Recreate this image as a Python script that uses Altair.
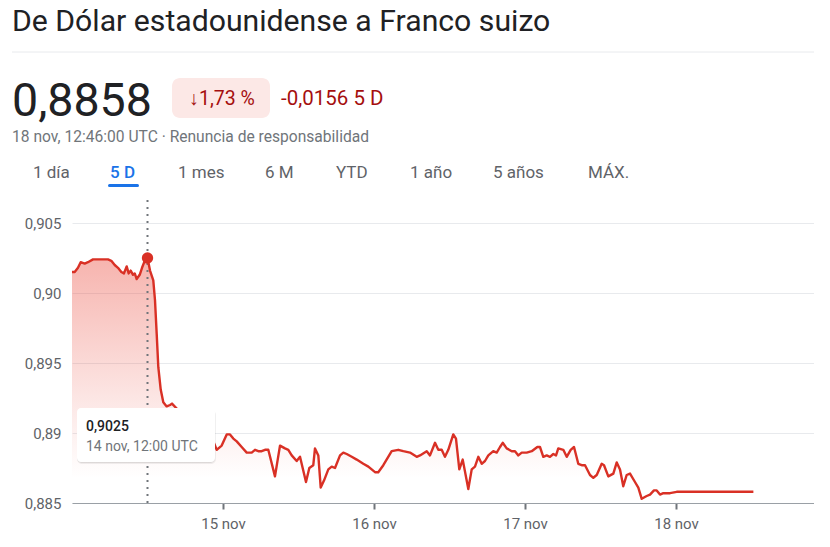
import altair as alt
import pandas as pd

# ---- data (hours since 14 nov 00:00 UTC, USD/CHF rate) ----
HOURS = [0, 0.43, 0.95, 1.38, 2.02, 2.54, 3.34, 4.13, 4.93, 5.72, 6.25, 6.79, 7.31, 7.84, 8.26,
         8.69, 9.01, 9.33, 9.70, 9.97, 10.28, 10.76, 11.13, 11.65, 12.0, 12.4, 12.92, 13.19, 13.46,
         13.72, 14.10, 14.51, 15.05, 15.58, 15.89, 17.17, 18.75, 20.34, 21.62,
         22.46, 23.0, 23.79, 24.59, 25.11, 25.64, 26.18, 26.97, 27.77, 28.56, 29.09, 29.61, 30.15,
         30.68, 31.2, 32.26, 33.06, 33.85, 34.38, 34.92, 35.71, 36.24, 37.19, 37.72, 38.35, 38.62,
         39.15, 39.53, 40.05, 40.74, 41.28, 41.8, 42.6, 43.12, 43.66, 44.46, 45.25, 46.3, 47.1,
         48.16, 48.68, 49.48, 50.81, 51.86, 52.66, 53.72, 54.79, 55.31, 56.38, 56.9, 57.7, 58.22,
         58.76, 59.28, 59.81, 60.6, 61.03, 61.56, 62.1, 62.99, 63.53, 64.05, 64.58, 65.12, 65.64,
         66.17, 66.96, 67.5, 68.03, 68.46, 69.09, 69.89, 70.41, 70.94, 71.48, 72.27, 73.07, 73.96,
         74.38, 74.91, 75.45, 75.97, 76.5, 76.93, 77.29, 78.09, 78.63, 79.26, 79.79, 80.47, 81.01,
         81.54, 82.33, 82.86, 83.4, 84.19, 84.56, 85.24, 86.04, 86.58, 87.1, 87.62, 88.16, 88.69,
         89.48, 90.01, 90.55, 91.34, 91.87, 92.5, 92.93, 93.46, 93.98, 95.05, 96.11, 97.16, 108.3]
VALUES = [0.9015, 0.9015, 0.9018, 0.9022, 0.9021, 0.9022, 0.9024, 0.9024, 0.9024, 0.9024, 0.9023,
          0.9020, 0.9018, 0.9015, 0.9014, 0.9019, 0.9014, 0.9016, 0.9013, 0.9014, 0.9010, 0.9013,
          0.9018, 0.9024, 0.9025, 0.9016, 0.9009, 0.8995, 0.8971, 0.8947, 0.8931, 0.8922, 0.8919,
          0.8920, 0.8921, 0.8915, 0.8906, 0.8901, 0.8896,
          0.8894, 0.8888, 0.8891, 0.8899, 0.8899, 0.8896, 0.8894, 0.8890, 0.8886, 0.8886, 0.8888,
          0.8887, 0.8887, 0.8888, 0.8888, 0.8869, 0.8891, 0.8889, 0.8888, 0.8884, 0.8880, 0.8883,
          0.8865, 0.8875, 0.8877, 0.8889, 0.8884, 0.8861, 0.8866, 0.8874, 0.8876, 0.8875, 0.8884,
          0.8886, 0.8885, 0.8883, 0.8881, 0.8878, 0.8876, 0.8872, 0.8872, 0.8877, 0.8887, 0.8888,
          0.8887, 0.8886, 0.8883, 0.8884, 0.8887, 0.8884, 0.8893, 0.8888, 0.8888, 0.8883, 0.8888,
          0.8899, 0.8896, 0.8874, 0.8881, 0.8860, 0.8874, 0.8876, 0.8883, 0.8878, 0.8880, 0.8884,
          0.8887, 0.8886, 0.8890, 0.8893, 0.8889, 0.8887, 0.8887, 0.8884, 0.8886, 0.8886, 0.8887,
          0.8890, 0.8890, 0.8883, 0.8884, 0.8883, 0.8885, 0.8884, 0.8889, 0.8888, 0.8883, 0.8888,
          0.8890, 0.8878, 0.8877, 0.8877, 0.8870, 0.8868, 0.8870, 0.8878, 0.8877, 0.8869, 0.8871,
          0.8879, 0.8874, 0.8862, 0.8870, 0.8871, 0.8865, 0.8861, 0.8853, 0.8855, 0.8856, 0.8859,
          0.8859, 0.8856, 0.8857, 0.8857, 0.8858, 0.8858, 0.8858]

TITLE = "De Dólar estadounidense a Franco suizo"
PRICE = "0,8858"
CHANGE_PCT = "↓1,73 %"
CHANGE_ABS = "-0,0156 5 D"
SUBTITLE = "18 nov, 12:46:00 UTC · Renuncia de responsabilidad"
TABS = ["1 día", "5 D", "1 mes", "6 M", "YTD", "1 año", "5 años", "MÁX."]
ACTIVE_TAB = "5 D"
X_TICK_HOURS = [24, 48, 72, 96]
X_TICK_LABELS = ["15 nov", "16 nov", "17 nov", "18 nov"]
Y_TICKS = [0.885, 0.89, 0.895, 0.9, 0.905]
Y_TICK_LABELS = ["0,885", "0,89", "0,895", "0,90", "0,905"]
HOVER_HOUR = 12
HOVER_VALUE = 0.9025
HOVER_LABEL = "0,9025"
HOVER_TIME = "14 nov, 12:00 UTC"

df = pd.DataFrame({"h": HOURS, "v": VALUES})
hover = pd.DataFrame({"h": [HOVER_HOUR], "v": [HOVER_VALUE]})

FONT = "Roboto"
RED = "#d93025"
GRAY_TXT = "#5f6368"


def ternary(values, labels, tol):
    expr = "''"
    for v, l in reversed(list(zip(values, labels))):
        expr = f"abs(datum.value - {v}) < {tol} ? '{l}' : ({expr})"
    return expr


W, H = 742, 280
X_END = W / 151 * 24
xs = alt.Scale(domain=[0, X_END], nice=False, zero=False)
ys = alt.Scale(domain=[0.885, 0.905], nice=False, zero=False)

x_axis = alt.Axis(values=X_TICK_HOURS, labelExpr=ternary(X_TICK_HOURS, X_TICK_LABELS, 0.5),
                  grid=False, domainColor="#9aa0a6", domainWidth=1, tickColor="#70757a",
                  tickWidth=2, tickSize=6, labelFont=FONT, labelFontSize=15, labelColor=GRAY_TXT,
                  labelPadding=7, title=None)
y_axis = alt.Axis(values=Y_TICKS, labelExpr=ternary(Y_TICKS, Y_TICK_LABELS, 0.0001),
                  grid=True, gridColor="#e8eaed", domain=False, ticks=False, labelFont=FONT,
                  labelFontSize=15, labelColor=GRAY_TXT, labelPadding=11, title=None)

base = alt.Chart(df)

gradient = alt.Gradient(
    gradient="linear",
    stops=[alt.GradientStop(color="rgba(234,67,53,0.40)", offset=0),
           alt.GradientStop(color="rgba(234,67,53,0.12)", offset=0.6),
           alt.GradientStop(color="rgba(234,67,53,0)", offset=0.9)],
    x1=1, x2=1, y1=0, y2=1)

area = base.mark_area(color=gradient).encode(
    x=alt.X("h:Q", scale=xs, axis=x_axis),
    y=alt.Y("v:Q", scale=ys, axis=y_axis),
    y2=alt.datum(0.885),
)

rule = alt.Chart(hover).mark_rule(color="#70757a", strokeWidth=2, strokeDash=[2, 5]).encode(
    x=alt.X("h:Q", scale=xs), y=alt.value(-23), y2=alt.value(H))

line = base.mark_line(color=RED, strokeWidth=2.4, strokeJoin="round").encode(
    x=alt.X("h:Q", scale=xs), y=alt.Y("v:Q", scale=ys))

point = alt.Chart(hover).mark_circle(color=RED, size=130, opacity=1).encode(
    x=alt.X("h:Q", scale=xs), y=alt.Y("v:Q", scale=ys))

one = alt.Data(values=[{}])


def box(x, x2, y, y2, **kw):
    return alt.Chart(one).mark_rect(**kw).encode(
        x=alt.value(x), x2=alt.value(x2), y=alt.value(y), y2=alt.value(y2))


def txt(s, x, y, **kw):
    style = dict(font=FONT, align="left", baseline="alphabetic")
    style.update(kw)
    return alt.Chart(one).mark_text(**style).encode(
        x=alt.value(x), y=alt.value(y), text=alt.value(s))


tip = [
    box(5, 144, 187, 241, color="black", opacity=0.06, cornerRadius=5),
    box(5, 143, 186, 240, color="black", opacity=0.08, cornerRadius=5),
    box(5, 143, 185, 239, color="white", cornerRadius=4),
    txt(HOVER_LABEL, 14, 208, fontSize=14, color="#202124", fontWeight=500),
    txt(HOVER_TIME, 14, 228, fontSize=14, color="#70757a"),
]

header = [
    txt(TITLE, -60, -192, fontSize=30.2, color="#202124"),
    alt.Chart(one).mark_rule(color="#e8eaed", strokeWidth=1).encode(
        x=alt.value(-60), x2=alt.value(W), y=alt.value(-171)),
    txt(PRICE, -60, -107, fontSize=46.5, color="#202124"),
    box(100, 198, -145, -105, color="#fce8e6", cornerRadius=8),
    txt(CHANGE_PCT, 150, -118, fontSize=19.5, color="#a50e0e", align="center"),
    txt(CHANGE_ABS, 209, -118, fontSize=20.5, color="#a50e0e"),
    txt(SUBTITLE, -60, -81, fontSize=15.6, color="#70757a"),
]

tab_x = [-39, 38, 106, 193, 264, 338, 421, 516]
for t, tx in zip(TABS, tab_x):
    active = t == ACTIVE_TAB
    header.append(txt(t, tx, -45, fontSize=17, color="#1a73e8" if active else GRAY_TXT,
                      fontWeight=500 if active else 400))
header.append(alt.Chart(one).mark_rule(color="#1a73e8", strokeWidth=3, strokeCap="round").encode(
    x=alt.value(37.5), x2=alt.value(65.5), y=alt.value(-37.5)))

chart = alt.layer(area, rule, line, point, *tip, *header).properties(
    width=W, height=H,
    autosize=alt.AutoSizeParams(type="none"),
    padding={"left": 64, "top": 215, "right": 0, "bottom": 32},
    background="white",
).configure_view(stroke=None)

chart.save("out.html", embed_options={"renderer": "svg", "actions": False})
